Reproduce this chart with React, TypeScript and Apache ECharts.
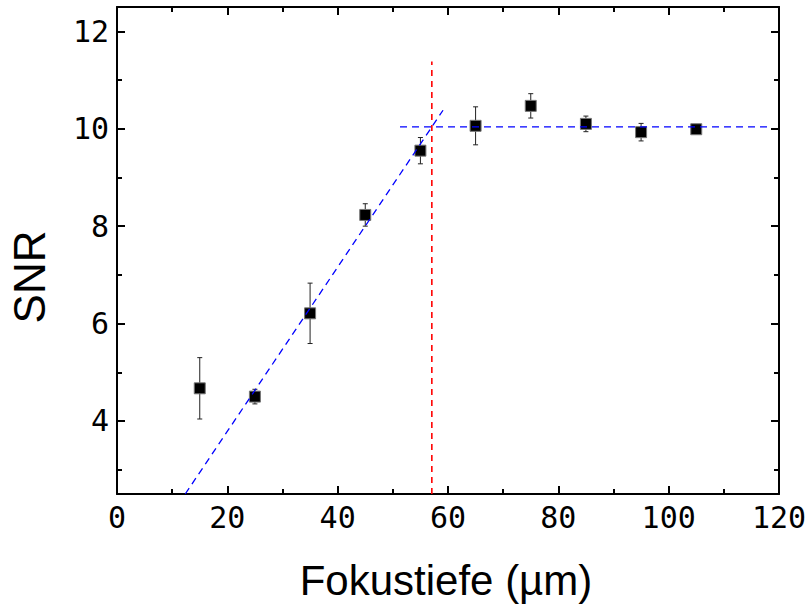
import React, { useEffect, useRef } from "react";
import * as echarts from "echarts";

const depthValues = [15, 25, 35, 45, 55, 65, 75, 85, 95, 105];
const snrValues = [4.67, 4.5, 6.21, 8.23, 9.55, 10.06, 10.47, 10.1, 9.93, 9.99];
const snrErrors = [0.63, 0.15, 0.62, 0.23, 0.27, 0.39, 0.25, 0.16, 0.18, 0.03];

const risingFit = [
  [12.37, 2.5],
  [59.1, 10.38],
];
const plateauFit = [
  [51.3, 10.04],
  [118.5, 10.04],
];
const cutoffLine = [
  [57.07, 2.5],
  [57.07, 11.38],
];

const yMajorTicks = [4, 6, 8, 10, 12];
const yMinorTicks = [3, 5, 7, 9, 11];

const MONO = "'DejaVu Sans Mono', monospace";
const SANS = "'Liberation Sans', Arial, sans-serif";

export default function App() {
  const ref = useRef<HTMLDivElement>(null);

  useEffect(() => {
    if (!ref.current) return;
    const chart = echarts.init(ref.current, null, { renderer: "svg" });

    const scatterData = depthValues.map((x, i) => [x, snrValues[i]]);
    const errData = depthValues.map((x, i) => [
      x,
      snrValues[i] - snrErrors[i],
      snrValues[i] + snrErrors[i],
    ]);

    const xBase = {
      type: "value",
      min: 0,
      max: 120,
      interval: 20,
      splitLine: { show: false },
      axisLine: { show: true, onZero: false, lineStyle: { color: "#000", width: 2 } },
      axisTick: { show: true, inside: true, length: 8, lineStyle: { color: "#000", width: 2 } },
      minorTick: { show: true, splitNumber: 2, length: 5, lineStyle: { color: "#000", width: 2 } },
      minorSplitLine: { show: false },
    };

    const yBase = (position: string, ticks: number[], len: number, line: boolean, labels: boolean) => ({
      type: "value",
      min: 2.5,
      max: 12.5,
      position,
      splitLine: { show: false },
      axisLine: { show: line, onZero: false, lineStyle: { color: "#000", width: 2 } },
      axisTick: {
        show: true,
        inside: true,
        length: len,
        customValues: ticks,
        lineStyle: { color: "#000", width: 2 },
      },
      axisLabel: labels
        ? {
            show: true,
            customValues: yMajorTicks,
            margin: 8,
            fontFamily: MONO,
            fontSize: 30,
            color: "#000",
          }
        : { show: false },
    });

    chart.setOption({
      animation: false,
      backgroundColor: "#fff",
      grid: { left: 117, top: 7, right: 32, bottom: 112, containLabel: false },
      xAxis: [
        {
          ...xBase,
          position: "bottom",
          axisLabel: { show: true, margin: 8, fontFamily: MONO, fontSize: 30, color: "#000" },
        },
        { ...xBase, position: "top", axisLabel: { show: false } },
      ],
      yAxis: [
        yBase("left", yMajorTicks, 8, true, true),
        yBase("left", yMinorTicks, 5, false, false),
        yBase("right", yMajorTicks, 8, true, false),
        yBase("right", yMinorTicks, 5, false, false),
      ],
      graphic: [
        {
          type: "text",
          x: 29,
          y: 277,
          rotation: Math.PI / 2,
          style: {
            text: "SNR",
            font: `44px ${SANS}`,
            fill: "#000",
            textAlign: "center",
            textVerticalAlign: "middle",
          },
        },
        {
          type: "text",
          x: 446,
          y: 580,
          style: {
            text: "Fokustiefe (µm)",
            font: `42px ${SANS}`,
            fill: "#000",
            textAlign: "center",
            textVerticalAlign: "middle",
          },
        },
      ],
      series: [
        {
          type: "custom",
          xAxisIndex: 0,
          yAxisIndex: 0,
          data: errData,
          encode: { x: 0, y: [1, 2] },
          renderItem: (params: any, api: any) => {
            const x = api.value(0);
            const lo = api.coord([x, api.value(1)]);
            const hi = api.coord([x, api.value(2)]);
            const hw = 2.5;
            const style = { stroke: "#222", lineWidth: 1 };
            return {
              type: "group",
              children: [
                { type: "line", shape: { x1: lo[0], y1: lo[1], x2: hi[0], y2: hi[1] }, style },
                { type: "line", shape: { x1: hi[0] - hw, y1: hi[1], x2: hi[0] + hw, y2: hi[1] }, style },
                { type: "line", shape: { x1: lo[0] - hw, y1: lo[1], x2: lo[0] + hw, y2: lo[1] }, style },
              ],
            };
          },
          z: 2,
        },
        {
          type: "scatter",
          xAxisIndex: 0,
          yAxisIndex: 0,
          data: scatterData,
          symbol: "rect",
          symbolSize: 11,
          itemStyle: { color: "#000", borderColor: "#777", borderWidth: 1, opacity: 1 },
          z: 3,
        },
        {
          type: "line",
          xAxisIndex: 0,
          yAxisIndex: 0,
          data: risingFit,
          symbol: "none",
          lineStyle: { color: "#0000ff", width: 1.3, type: [7, 5] },
          z: 4,
        },
        {
          type: "line",
          xAxisIndex: 0,
          yAxisIndex: 0,
          data: plateauFit,
          symbol: "none",
          lineStyle: { color: "#0000ff", width: 1.3, type: [7, 5] },
          z: 4,
        },
        {
          type: "line",
          xAxisIndex: 0,
          yAxisIndex: 0,
          data: cutoffLine,
          symbol: "none",
          lineStyle: { color: "#ff0000", width: 1.6, type: [6, 5] },
          z: 4,
        },
      ],
    });

    return () => chart.dispose();
  }, []);

  return <div ref={ref} style={{ width: 811, height: 606, position: "absolute", left: 0, top: 0 }} />;
}
